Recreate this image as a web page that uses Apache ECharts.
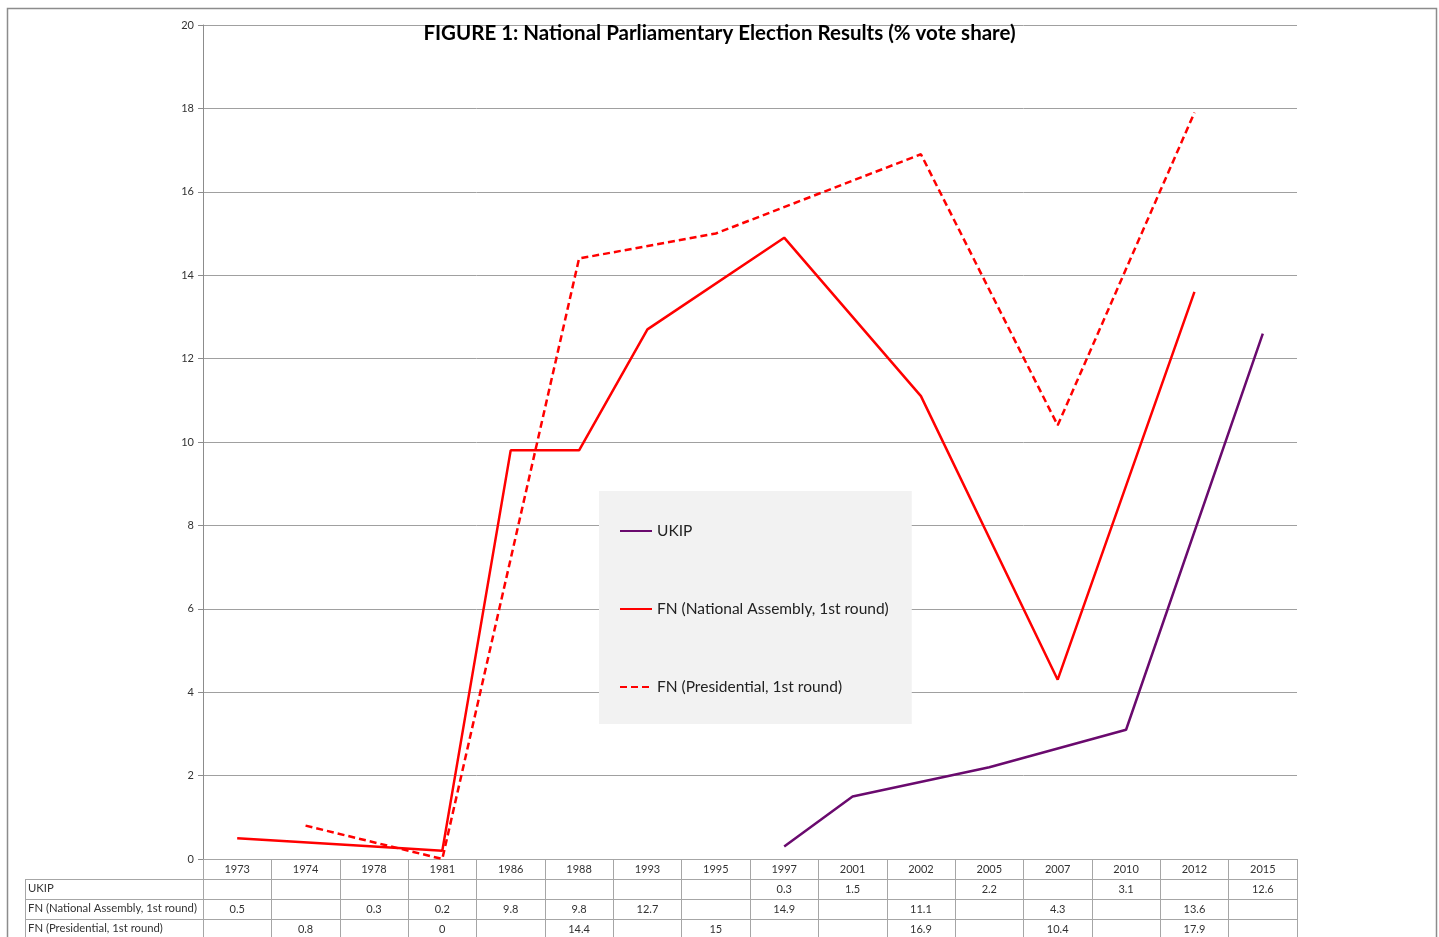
<!DOCTYPE html>
<html lang="en">
<head>
    <meta charset="UTF-8">
    <title>National Parliamentary Election Results</title>
    <script src="https://cdn.jsdelivr.net/npm/echarts@6/dist/echarts.min.js"></script>
    <style>
        html, body { margin: 0; padding: 0; background: #fff; }
    </style>
</head>
<body>
<div id="chart" style="width: 1439px;height:937px;"></div>
<script>
    // election years (table header)
    var years = ['1973', '1974', '1978', '1981', '1986', '1988', '1993', '1995',
        '1997', '2001', '2002', '2005', '2007', '2010', '2012', '2015'];
    // % vote share, null = no election of that type
    var ukip = [null, null, null, null, null, null, null, null,
        0.3, 1.5, null, 2.2, null, 3.1, null, 12.6];
    var fnAssembly = [0.5, null, 0.3, 0.2, 9.8, 9.8, 12.7, null,
        14.9, null, 11.1, null, 4.3, null, 13.6, null];
    var fnPresidential = [null, 0.8, null, 0, null, 14.4, null, 15,
        null, null, 16.9, null, 10.4, null, 17.9, null];
    var seriesNames = ['UKIP', 'FN (National Assembly, 1st round)', 'FN (Presidential, 1st round)'];
    var yTicks = [0, 2, 4, 6, 8, 10, 12, 14, 16, 18, 20];

    var gridLeft = 203, gridRight = 142, gridTop = 25, gridBottom = 78;
    var rowH = 20;
    var tableColor = '#a6a6a6';

    var chart = echarts.init(document.getElementById('chart'));

    // one category axis per data table row
    function tableAxis(labels, row) {
        return {
            type: 'category',
            position: 'bottom',
            offset: row * rowH,
            data: labels,
            min: 0,
            max: labels.length - 1,
            boundaryGap: true,
            axisLine: { show: true, lineStyle: { color: tableColor, width: 1 } },
            axisTick: { show: true, interval: 0, length: rowH, lineStyle: { color: tableColor } },
            axisLabel: { interval: 0, margin: 5, fontSize: 11, color: '#333', fontFamily: 'Lato' },
            splitLine: { show: false }
        };
    }
    function toLabels(arr) {
        return arr.map(function (v) { return v == null ? '' : String(v); });
    }

    var xAxes = [
        tableAxis(years, 0),
        tableAxis(toLabels(ukip), 1),
        tableAxis(toLabels(fnAssembly), 2),
        tableAxis(toLabels(fnPresidential), 3)
    ];

    // left column of data table: row names and borders
    var graphics = [
        { type: 'rect', left: 5, top: 6, shape: { width: 1429, height: 960 },
          style: { fill: null, stroke: '#8c8c8c', lineWidth: 1.5 }, silent: true }
    ];
    var tableTop = 937 - gridBottom;
    for (var r = 1; r <= 3; r++) {
        graphics.push({
            type: 'line',
            shape: { x1: 25, y1: tableTop + r * rowH + 0.5, x2: gridLeft, y2: tableTop + r * rowH + 0.5 },
            style: { stroke: tableColor, lineWidth: 1 }
        });
        graphics.push({
            type: 'text', left: 28, top: tableTop + r * rowH + 4,
            style: { text: seriesNames[r - 1], fontSize: 11.3, fill: '#333', fontFamily: 'Lato' }
        });
    }
    graphics.push({
        type: 'line',
        shape: { x1: 25.5, y1: tableTop + rowH, x2: 25.5, y2: 960 },
        style: { stroke: tableColor, lineWidth: 1 }
    });
    graphics.push({
        type: 'line',
        shape: { x1: gridLeft + 0.5, y1: tableTop, x2: gridLeft + 0.5, y2: 960 },
        style: { stroke: tableColor, lineWidth: 1 }
    });

    var option = {
        animation: false,
        textStyle: { fontFamily: 'Lato' },
        title: {
            text: 'FIGURE 1: National Parliamentary Election Results (% vote share)',
            left: 'center',
            top: 18,
            textStyle: { fontSize: 20.5, fontWeight: 'bold', color: '#000', fontFamily: 'Lato' }
        },
        legend: {
            orient: 'vertical',
            left: 599,
            top: 491,
            backgroundColor: '#f2f2f2',
            padding: [32, 23, 29, 20],
            itemGap: 62,
            itemWidth: 32,
            itemHeight: 14,
            itemStyle: { opacity: 0 },
            textStyle: { fontSize: 15.5, color: '#222', fontFamily: 'Lato' },
            data: seriesNames
        },
        grid: { left: gridLeft, right: gridRight, top: gridTop, bottom: gridBottom },
        xAxis: xAxes,
        yAxis: {
            type: 'value',
            min: yTicks[0],
            max: yTicks[yTicks.length - 1],
            interval: 2,
            axisLine: { show: true, lineStyle: { color: '#8c8c8c' } },
            axisTick: { show: true, length: 5, lineStyle: { color: '#8c8c8c' } },
            axisLabel: { fontSize: 11, color: '#333', margin: 9, fontFamily: 'Lato' },
            splitLine: { lineStyle: { color: '#a0a0a0', width: 1 } }
        },
        series: [
            {
                name: seriesNames[0],
                type: 'line',
                data: ukip,
                connectNulls: true,
                symbol: 'none',
                lineStyle: { color: '#6a0a6e', width: 2.5 },
                itemStyle: { color: '#6a0a6e' }
            },
            {
                name: seriesNames[1],
                type: 'line',
                data: fnAssembly,
                connectNulls: true,
                symbol: 'none',
                lineStyle: { color: '#ff0000', width: 2.5 },
                itemStyle: { color: '#ff0000' }
            },
            {
                name: seriesNames[2],
                type: 'line',
                data: fnPresidential,
                connectNulls: true,
                symbol: 'none',
                lineStyle: { color: '#ff0000', width: 2.5, type: [7, 4] },
                itemStyle: { color: '#ff0000' }
            }
        ],
        graphic: graphics
    };
    chart.setOption(option);
</script>
</body>
</html>
